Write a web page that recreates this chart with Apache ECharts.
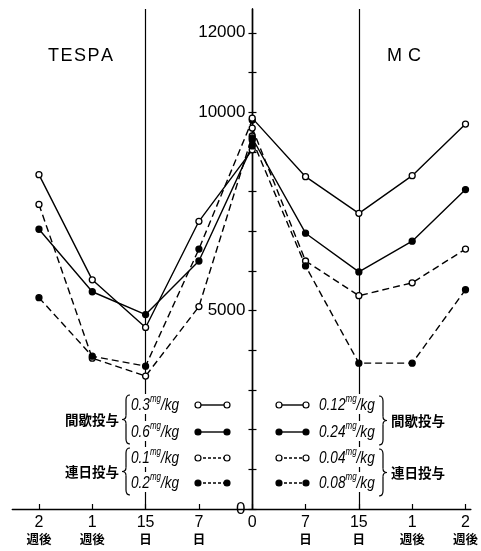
<!DOCTYPE html>
<html><head><meta charset="utf-8">
<script src="https://cdn.jsdelivr.net/npm/echarts@6/dist/echarts.min.js"></script>
<style>html,body{margin:0;padding:0;background:#fff}#c{width:481px;height:551px}</style>
</head><body><div id="c"></div>
<script>
// ---- data ----
const xTicks = [-4, -3, -2, -1, 0, 1, 2, 3, 4];
const xNums = ['2', '1', '15', '7', '0', '7', '15', '1', '2'];
const xUnits = ['週後', '週後', '日', '日', '', '日', '日', '週後', '週後'];
const yTicks = [0,1000,2000,3000,4000,5000,6000,7000,8000,9000,10000,11000,12000];
const yLabels = [0, 5000, 10000, 12000];
const dividers = [-2, 2];
const tespaX = [-4, -3, -2, -1, 0];
const mcX = [0, 1, 2, 3, 4];
const tespa03 = [8425, 5775, 4575, 7250, 9050];
const tespa06 = [7050, 5475, 4900, 6250, 9150];
const tespa01 = [7675, 3800, 3350, 5100, 9400];
const tespa02 = [5325, 3850, 3600, 6550, 9800];
const mc012 = [9850, 8375, 7450, 8400, 9700];
const mc024 = [9350, 6950, 5975, 6750, 8050];
const mc004 = [9600, 6250, 5375, 5700, 6550];
const mc008 = [9300, 6125, 3675, 3675, 5525];
const leftDoses = ['0.3', '0.6', '0.1', '0.2'];
const rightDoses = ['0.12', '0.24', '0.04', '0.08'];
const groupNames = ['間歇投与', '連日投与'];
const panelTitles = ['TESPA', 'MC'];

// ---- build ----
const chart = echarts.init(document.getElementById('c'));
const FONT = "'Liberation Sans',Arial,sans-serif";
const CJK = "'Noto Sans CJK JP',sans-serif";
const GL = 12.3, GT = 9, GR = 9.7, GB = 42;
const axisOffset = -(481 - GL - GR) * 4.5 / 8.6;

function mk(xs, ys, filled, dashed, extra) {
  return Object.assign({
    type: 'line', xAxisIndex: 0, yAxisIndex: 0,
    data: xs.map((x, i) => [x, ys[i]]),
    symbol: 'circle', symbolSize: 6, showSymbol: true,
    lineStyle: { color: '#000', width: 1.4, type: dashed ? [7, 4] : 'solid' },
    itemStyle: { color: filled ? '#000' : '#fff', borderColor: '#000', borderWidth: 1.3 },
    z: 5, animation: false
  }, extra || {});
}

const series = [
  mk(tespaX, tespa03, false, false, {
    markLine: { silent: true, symbol: 'none', label: { show: false },
      lineStyle: { color: '#000', width: 1.2, type: 'solid' },
      data: dividers.map(v => ({ xAxis: v })) }
  }),
  mk(tespaX, tespa06, true, false),
  mk(tespaX, tespa01, false, true),
  mk(tespaX, tespa02, true, true),
  mk(mcX, mc012, false, false),
  mk(mcX, mc024, true, false),
  mk(mcX, mc004, false, true),
  mk(mcX, mc008, true, true)
];

const graphic = [];
function sample(x1, x2, y, filled, dashed) {
  graphic.push({ type: 'line', shape: { x1: x1, y1: y, x2: x2, y2: y },
    style: { stroke: '#000', lineWidth: 1.4, lineDash: dashed ? [3, 2] : null }, z: 10 });
  [x1, x2].forEach(cx => graphic.push({ type: 'circle', shape: { cx: cx, cy: y, r: 3 },
    style: { fill: filled ? '#000' : '#fff', stroke: '#000', lineWidth: 1.2 }, z: 11 }));
}
function brace(x, yTop, yBot, dir) {
  const ym = (yTop + yBot) / 2, w = 4 * dir;
  const st = { stroke: '#000', lineWidth: 1.2, fill: null };
  const segs = [
    { x1: x + w, y1: yTop, x2: x, y2: yTop + 5, cpx1: x, cpy1: yTop },
    { x1: x, y1: yTop + 5, x2: x, y2: ym - 4, cpx1: x, cpy1: ym - 4 },
    { x1: x, y1: ym - 4, x2: x - w, y2: ym, cpx1: x, cpy1: ym },
    { x1: x - w, y1: ym, x2: x, y2: ym + 4, cpx1: x, cpy1: ym },
    { x1: x, y1: ym + 4, x2: x, y2: yBot - 5, cpx1: x, cpy1: ym + 4 },
    { x1: x, y1: yBot - 5, x2: x + w, y2: yBot, cpx1: x, cpy1: yBot }
  ];
  segs.forEach(s => graphic.push({ type: 'bezierCurve', shape: s, style: st, z: 12 }));
}
const rows = [405, 432, 458, 483];
const doseRich = {
  a: { fontFamily: FONT, fontStyle: 'italic', fontSize: 17, color: '#000', verticalAlign: 'bottom', lineHeight: 20 },
  s: { fontFamily: FONT, fontStyle: 'italic', fontSize: 10, color: '#000', verticalAlign: 'top', lineHeight: 20 }
};
rows.forEach((y, i) => {
  const filled = i % 2 === 1, dashed = i >= 2;
  sample(198, 227, y, filled, dashed);
  sample(279, 306, y, filled, dashed);
  graphic.push({ type: 'text', x: 131, y: y - 1, scaleX: 0.8, z: 12,
    style: { text: '{a|' + leftDoses[i] + '}{s|mg}{a|/kg}', rich: doseRich, align: 'left', verticalAlign: 'middle', backgroundColor: '#fff' } });
  graphic.push({ type: 'text', x: 319, y: y - 1, scaleX: 0.8, z: 12,
    style: { text: '{a|' + rightDoses[i] + '}{s|mg}{a|/kg}', rich: doseRich, align: 'left', verticalAlign: 'middle', backgroundColor: '#fff' } });
});
[0, 1].forEach(g => {
  const top = rows[g * 2] - 10, bot = rows[g * 2 + 1] + 12;
  const cy = (top + bot) / 2;
  graphic.push({ type: 'text', x: 119, y: cy, z: 12,
    style: { text: groupNames[g], font: 'bold 13.5px ' + CJK, fill: '#000', align: 'right', verticalAlign: 'middle' } });
  graphic.push({ type: 'text', x: 391, y: cy + 1, z: 12,
    style: { text: groupNames[g], font: 'bold 13.5px ' + CJK, fill: '#000', align: 'left', verticalAlign: 'middle' } });
  brace(126, top, bot, 1);
  brace(383, top + 1, bot + 1, -1);
});
const titleRich = { l: { fontFamily: FONT, fontSize: 18, color: '#000', padding: [0, 1.5, 0, 0] },
                    m: { fontFamily: FONT, fontSize: 18, color: '#000', padding: [0, 6, 0, 0] } };
graphic.push({ type: 'text', x: 48, y: 56, z: 12,
  style: { text: panelTitles[0].split('').map(c => '{l|' + c + '}').join(''), rich: titleRich, align: 'left', verticalAlign: 'middle' } });
graphic.push({ type: 'text', x: 387, y: 56, z: 12,
  style: { text: panelTitles[1].split('').map(c => '{m|' + c + '}').join(''), rich: titleRich, align: 'left', verticalAlign: 'middle' } });

const yBase = {
  type: 'value', min: 0, max: 12600, position: 'left', offset: axisOffset,
  axisLine: { show: true, onZero: false, lineStyle: { color: '#000', width: 1.4 } },
  splitLine: { show: false }
};

chart.setOption({
  animation: false,
  backgroundColor: '#fff',
  grid: { left: GL, right: GR, top: GT, bottom: GB, containLabel: false },
  xAxis: {
    type: 'value', min: -4.5, max: 4.1,
    axisLine: { show: true, onZero: false, lineStyle: { color: '#000', width: 1.4 } },
    axisTick: { show: true, inside: true, length: 5, customValues: xTicks, lineStyle: { color: '#000', width: 1.2 } },
    splitLine: { show: false },
    axisLabel: {
      customValues: xTicks, margin: 5, color: '#000',
      formatter: v => { const i = xTicks.indexOf(v); return i < 0 ? '' : '{n|' + xNums[i] + '}' + (xUnits[i] ? '\n{k|' + xUnits[i] + '}' : ''); },
      rich: {
        n: { fontFamily: FONT, fontSize: 16, color: '#000', lineHeight: 17 },
        k: { fontFamily: CJK, fontWeight: 'bold', fontSize: 12.5, color: '#000', lineHeight: 17 }
      }
    }
  },
  yAxis: [
    Object.assign({}, yBase, {
      axisTick: { show: true, inside: false, length: 4, customValues: yTicks, lineStyle: { color: '#000', width: 1.2 } },
      axisLabel: { customValues: yLabels, margin: 7, color: '#000', fontFamily: FONT, fontSize: 17,
        formatter: v => String(v) }
    }),
    Object.assign({}, yBase, {
      axisTick: { show: true, inside: true, length: 4, customValues: yTicks, lineStyle: { color: '#000', width: 1.2 } },
      axisLabel: { show: false }
    })
  ],
  graphic: graphic,
  series: series
});
</script></body></html>
